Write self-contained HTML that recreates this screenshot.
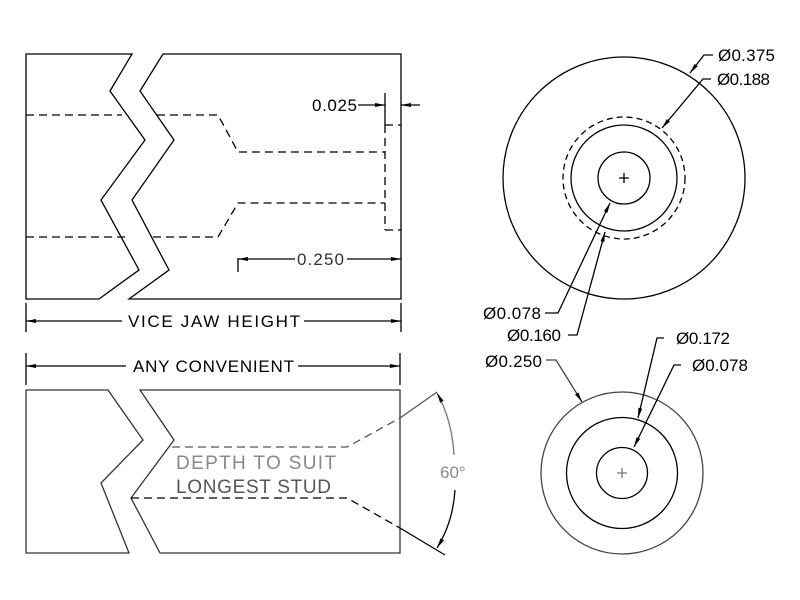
<!DOCTYPE html>
<html><head><style>body{margin:0;background:#fff}svg{display:block}</style></head><body>
<svg width="800" height="600" viewBox="0 0 800 600" xmlns="http://www.w3.org/2000/svg" font-family="Liberation Sans, sans-serif">
<defs><marker id="a" viewBox="0 0 10 4" refX="10" refY="2" markerWidth="12" markerHeight="4" markerUnits="userSpaceOnUse" orient="auto"><path d="M0,0L10,2L0,4z" fill="#000"/></marker></defs>
<g fill="none" stroke="#000" stroke-width="1.3">
<path d="M132,54L110,91L145,140L101,200L139,270L99,299L26,299L26,54Z"/>
<path d="M163,54L401,54L401,299L129,299L169,270L132,200L174,140L140,91Z"/>
<g stroke-dasharray="8,5">
<path d="M26,115H122M157,115H218L238,152H385"/>
<path d="M26,237H125M153,237H218L238,203H385"/>
<path d="M385,125V230M385,125H401M385,230H401"/>
</g>
<path d="M385,93V125"/>
<path d="M358,105H385" marker-end="url(#a)"/><path d="M420,105H401" marker-end="url(#a)"/>
<path d="M238,258V272M295,259H238" marker-end="url(#a)"/><path d="M347,259H401" marker-end="url(#a)"/>
<path d="M26,303V332M401,303V332"/>
<path d="M122,321H26" marker-end="url(#a)"/><path d="M304,321H401" marker-end="url(#a)"/>
<path d="M26,353V385M400,353V385"/>
<path d="M126,366H26" marker-end="url(#a)"/><path d="M298,366H400" marker-end="url(#a)"/>
<path d="M26,390H108L143,440L101,483L129,553H26Z" stroke="#333"/>
<path d="M140,390H400V553H160L131,498L174,440Z" stroke="#333"/>
<g stroke-dasharray="8,5"><path d="M172,447H347L400,418" stroke="#555"/><path d="M131,498H347L400,528"/></g>
<path d="M400,418L437,392" stroke="#555"/><path d="M400,528L445,555"/>
<path d="M454,455Q452,420 437,393" marker-end="url(#a)" stroke="#777"/>
<path d="M455,490Q453,522 437,548" marker-end="url(#a)"/>
<circle cx="624" cy="178" r="121"/><circle cx="624" cy="178" r="61" stroke-dasharray="6,4"/>
<circle cx="624" cy="178" r="53"/><circle cx="624" cy="178" r="26"/>
<path d="M619,178h10M624,173v10"/>
<path d="M713,55H704L690,73" marker-end="url(#a)"/>
<path d="M711,79H703L662,128" marker-end="url(#a)"/>
<path d="M545,313H558L610,203" marker-end="url(#a)"/>
<path d="M568,335H577L605,232" marker-end="url(#a)"/>
<circle cx="622" cy="473" r="81" stroke="#444"/><circle cx="622" cy="473" r="55.5"/><circle cx="622" cy="473" r="25.5"/>
<path d="M617,473h10M622,468v10" stroke="#777"/>
<path d="M546,360H556L582,402" marker-end="url(#a)" stroke="#444"/>
<path d="M664,338H657L638,418" marker-end="url(#a)"/>
<path d="M681,365H674L634,447" marker-end="url(#a)"/>
</g>
<g font-size="17" fill="#000">
<text x="312" y="111" textLength="45">0.025</text>
<text x="297" y="265" textLength="47" fill="#333">0.250</text>
<text x="128" y="327" textLength="172" lengthAdjust="spacing">VICE JAW HEIGHT</text>
<text x="133" y="372" textLength="161" lengthAdjust="spacing">ANY CONVENIENT</text>
<text x="176" y="469" textLength="160" lengthAdjust="spacing" fill="#888" font-size="19">DEPTH TO SUIT</text>
<text x="176" y="493" textLength="155" lengthAdjust="spacing" fill="#555" font-size="19">LONGEST STUD</text>
<text x="440" y="478" fill="#888">60°</text>
<text x="718" y="61" textLength="57">Ø0.375</text>
<text x="717" y="85" textLength="53">Ø0.188</text>
<text x="483" y="319" textLength="58">Ø0.078</text>
<text x="507" y="341" textLength="54">Ø0.160</text>
<text x="485" y="367" textLength="57">Ø0.250</text>
<text x="676" y="344" textLength="54">Ø0.172</text>
<text x="692" y="371" textLength="56">Ø0.078</text>
</g>
</svg>
</body></html>
